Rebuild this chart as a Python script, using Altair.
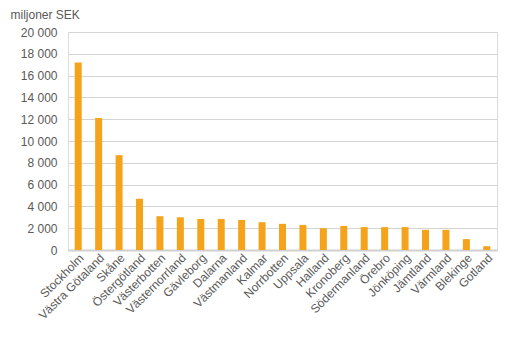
import altair as alt
import pandas as pd

regions = ["Stockholm", "Västra Götaland", "Skåne", "Östergötland", "Västerbotten",
           "Västernorrland", "Gävleborg", "Dalarna", "Västmanland", "Kalmar",
           "Norrbotten", "Uppsala", "Halland", "Kronoberg", "Södermanland",
           "Örebro", "Jönköping", "Jämtland", "Värmland", "Blekinge", "Gotland"]
values = [17200, 12100, 8700, 4700, 3100, 3000, 2850, 2850, 2750, 2550,
          2400, 2300, 2000, 2200, 2100, 2100, 2100, 1850, 1850, 1000, 350]
y_ticks = [0, 2000, 4000, 6000, 8000, 10000, 12000, 14000, 16000, 18000, 20000]

df = pd.DataFrame({"region": regions, "value": values})

font = "Liberation Sans"
txt = "#595959"

chart = alt.Chart(df).mark_bar(size=7, color="#F5A31A").encode(
    x=alt.X("region:N", sort=regions,
            scale=alt.Scale(paddingInner=0, paddingOuter=0),
            axis=alt.Axis(title=None, labelAngle=-45, labelAlign="right",
                          labelBaseline="top", labelPadding=2, ticks=False,
                          domainColor="#D0D0D0", domainWidth=2,
                          labelColor=txt, labelFont=font, labelFontSize=12,
                          labelOverlap=False, grid=False)),
    y=alt.Y("value:Q", scale=alt.Scale(domain=[0, 20000], nice=False),
            axis=alt.Axis(values=y_ticks, domain=False, ticks=False,
                          labelExpr="replace(format(datum.value, ','), ',', ' ')",
                          labelColor=txt, labelFont=font, labelFontSize=12,
                          labelPadding=11,
                          gridColor="#D4D4D4", gridWidth=1,
                          title="miljoner SEK", titleAngle=0, titleAlign="left",
                          titleBaseline="alphabetic", titleX=-58, titleY=-14,
                          titleColor=txt, titleFont=font, titleFontSize=12,
                          titleFontWeight="normal")),
).properties(
    width=429, height=218,
    autosize=alt.AutoSizeParams(type="none"),
    padding={"left": 68, "top": 32, "right": 13, "bottom": 101},
).configure_view(fill="#EAEAEA", stroke=None
).configure(background="white")

chart.save("out.html", embed_options={"renderer": "svg", "actions": False})
